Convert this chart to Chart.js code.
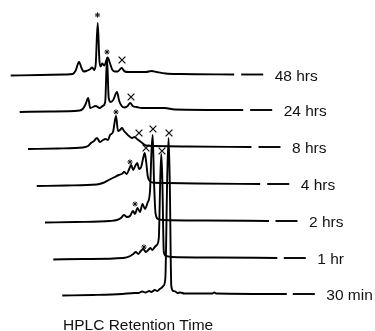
<!DOCTYPE html>
<html>
<head>
<meta charset="utf-8">
<script src="https://cdn.jsdelivr.net/npm/chart.js@4.4.0/dist/chart.umd.min.js"></script>
<style>
    body { margin: 0; background: #fff; }
    #wrap { position: relative; width: 375px; height: 331px; }
</style>
</head>
<body>
<div id="wrap"><canvas id="hplcChart"></canvas></div>
<script>
// sample times, top trace first
var sampleLabels = ['48 hrs', '24 hrs', '8 hrs', '4 hrs', '2 hrs', '1 hr', '30 min'];

// retention time (relative) / detector signal, one pair per sample
var rt48 = [0, 30, 55, 62, 65, 68.3, 71, 73, 75.5, 79, 81.5, 83.5, 85, 87, 88.7, 90, 91.5, 93.5, 97, 99, 101.5, 104, 107, 111, 114, 118, 135, 141, 146, 155, 170, 223.5];
var sig48 = [-1, -0.5, 0, 0.5, 4, 12.5, 6, 3, 3.5, 5, 7, 4.5, 10, 51.5, 14, 8, 11, 9, 17, 12, 5, 3, 3, 6.5, 3, 2.5, 2.5, 3.5, 2.5, 1, 0.5, 0];

var rt24 = [0, 30, 60, 63, 66, 68.5, 70.5, 76, 80, 83, 85.5, 87.3, 89, 91, 93.5, 97.3, 99.5, 102, 105, 108, 110.5, 113, 117, 122, 140, 145, 155, 223.5];
var sig24 = [-2, -1.5, -0.5, 1, 6, 12, 2, 4, 2, 4, 8, 52, 12, 8, 10, 18, 9, 4, 2.5, 4, 7, 4, 3, 2, 2, 2, 0.5, 0];

var rt8 = [0, 30, 55, 60, 63, 66, 69, 72, 75, 77.5, 80, 82, 85, 88, 90, 92, 94, 96, 98, 101, 104, 106.5, 109, 113, 118, 125, 160, 223.5];
var sig8 = [-2, -1.5, -0.5, 1, 4, 6, 9, 5, 7, 8, 7, 12, 15, 31, 16, 17, 19, 16, 14, 11, 9, 10, 8, 5, 1.5, 1, 0.5, 0];

var rt4 = [0, 30, 60, 66, 72, 78, 82, 85, 87.5, 90, 92.5, 94.5, 96.5, 98.5, 100.5, 102.5, 104.5, 106.5, 108, 109.5, 111, 113, 116, 130, 160, 223.5];
var sig4 = [-2, -1.5, -0.5, 1, 4, 7, 9, 10, 12, 10, 15, 19, 14, 18, 21, 15, 17, 26, 31, 22, 8, 3, 1.5, 1, 0.5, 0];

var rt2 = [0, 30, 65, 72, 76, 79, 82, 85, 88, 90, 92.5, 95, 97.5, 100, 102.5, 105, 106.5, 107.7, 109, 110.5, 113, 118, 160, 224];
var sig2 = [-1.5, -1, 0, 1, 3, 6, 4, 5, 10, 7, 13, 9, 17, 12, 18, 30, 70, 86, 40, 8, 2, 1, 0.5, 0];

var rt1 = [0, 30, 70, 77, 80, 82.5, 85, 87.5, 90, 92.5, 95, 97, 99, 101.5, 103.5, 105.5, 107, 108, 109, 110.5, 113, 118, 160, 224];
var sig1 = [-1.5, -1, 0, 2, 4, 6, 4, 7, 9, 6, 8, 10, 8, 11, 13, 20, 80, 104, 80, 6, 2, 1, 0.5, 0];

var rt30 = [0, 30, 60, 72, 76, 80, 83, 87, 89, 92.5, 95, 97.5, 99.5, 101, 103, 105, 106.3, 107.5, 109, 111, 113, 115, 118, 122, 150, 152, 154, 224.5];
var sig30 = [-1.5, -1, 0, 1, 1, 2.5, 1.5, 3, 2, 4, 3, 5, 6.5, 8, 15, 120, 156, 110, 8, 3, 2.5, 1, 1.5, 0.5, 0.5, 1.5, 0.5, 0];

// peak markers: * and x, same relative units (null = none)
var starRt = [86.8, 87.3, 88, 93.3, 90, 90.7, null];
var starSig = [59.5, 58, 35, 22, 17, 11, null];
var crossRt = [111.3, 111.3, 111, 109.3, 108, 108.7, 106.7];
var crossSig = [14.5, 13, 14, 36, 92, 107, 161];

var traceRt = [rt48, rt24, rt8, rt4, rt2, rt1, rt30];
var traceSig = [sig48, sig24, sig8, sig4, sig2, sig1, sig30];

// waterfall layout (pixels): left start and baseline of each trace
var W = 375, H = 331;
var xShift = [10.7, 19.7, 28, 36.7, 45, 53.3, 62.3];
var yBaseline = [74.5, 110, 147, 184, 221, 258, 294];

function baseOf(i) { return H - yBaseline[i]; }

var datasets = [];
var starPts = [], crossPts = [];
for (var i = 0; i < traceRt.length; i++) {
    var pts = traceRt[i].map(function (t, k) {
        return { x: xShift[i] + t, y: baseOf(i) + traceSig[i][k] };
    });
    datasets.push({
        label: sampleLabels[i],
        data: pts,
        borderColor: '#000',
        borderWidth: 1.9,
        pointRadius: 0,
        cubicInterpolationMode: 'monotone'
    });
    if (starRt[i] !== null) starPts.push({ x: xShift[i] + starRt[i], y: baseOf(i) + starSig[i] });
    crossPts.push({ x: xShift[i] + crossRt[i], y: baseOf(i) + crossSig[i] });
}
datasets.push({
    label: 'star', data: starPts, showLine: false,
    pointStyle: 'star', pointRadius: 2.6, pointBorderWidth: 1,
    pointBorderColor: '#111', pointBackgroundColor: '#111'
});
datasets.push({
    label: 'cross', data: crossPts, showLine: false,
    pointStyle: 'crossRot', pointRadius: 4.8, pointBorderWidth: 1.3,
    pointBorderColor: '#111', pointBackgroundColor: '#111'
});

// axis-break dashes, sample names and the axis caption
var sideLabels = {
    id: 'sideLabels',
    afterDatasetsDraw: function (chart) {
        var ctx = chart.ctx, xs = chart.scales.x, ys = chart.scales.y;
        ctx.save();
        ctx.strokeStyle = '#000';
        ctx.lineWidth = 1.9;
        ctx.fillStyle = '#111';
        ctx.font = '15.5px "Liberation Sans", Arial, sans-serif';
        for (var i = 0; i < sampleLabels.length; i++) {
            var py = ys.getPixelForValue(baseOf(i));
            ctx.beginPath();
            ctx.moveTo(xs.getPixelForValue(xShift[i] + 230.5), py);
            ctx.lineTo(xs.getPixelForValue(xShift[i] + 252.5), py);
            ctx.stroke();
            ctx.fillText(sampleLabels[i], xs.getPixelForValue(xShift[i] + 264), py + 6);
        }
        ctx.fillText('HPLC Retention Time', 63, 329.5);
        ctx.restore();
    }
};

var hplcChart = new Chart(document.getElementById('hplcChart'), {
    type: 'line',
    data: { datasets: datasets },
    options: {
        responsive: true,
        maintainAspectRatio: false,
        animation: false,
        layout: { padding: 0, autoPadding: false },
        plugins: { legend: { display: false }, tooltip: { enabled: false } },
        scales: {
            x: { type: 'linear', min: 0, max: W, display: false },
            y: { type: 'linear', min: 0, max: H, display: false }
        }
    },
    plugins: [sideLabels]
});
</script>
</body>
</html>
